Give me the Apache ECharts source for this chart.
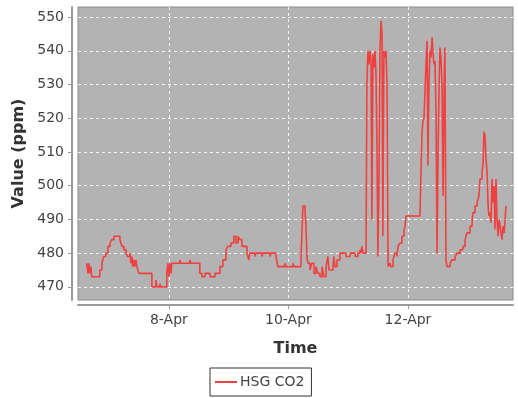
<!DOCTYPE html>
<html>
<head>
<meta charset="utf-8">
<script src="https://cdn.jsdelivr.net/npm/echarts@6/dist/echarts.min.js"></script>
<style>html,body{margin:0;padding:0;background:#fff}#c{width:518px;height:398px}</style>
</head>
<body>
<div id="c"></div>
<script>
const seriesName = 'HSG CO2';
const times = [
'2013-04-06 15:00','2013-04-06 15:30','2013-04-06 15:50','2013-04-06 16:15','2013-04-06 16:40','2013-04-06 17:00','2013-04-06 20:15','2013-04-06 21:05','2013-04-06 21:50','2013-04-06 22:40','2013-04-06 23:30',
'2013-04-07 00:20','2013-04-07 01:05','2013-04-07 01:55','2013-04-07 04:20','2013-04-07 04:45','2013-04-07 05:05','2013-04-07 05:55','2013-04-07 06:45','2013-04-07 07:30','2013-04-07 08:20','2013-04-07 08:45','2013-04-07 09:10','2013-04-07 09:30','2013-04-07 09:55','2013-04-07 10:20','2013-04-07 10:45','2013-04-07 11:10','2013-04-07 11:55','2013-04-07 17:10','2013-04-07 18:45','2013-04-07 19:10','2013-04-07 20:20','2013-04-07 20:45','2013-04-07 23:10','2013-04-07 23:35',
'2013-04-08 00:00','2013-04-08 00:25','2013-04-08 00:50','2013-04-08 01:10','2013-04-08 04:25','2013-04-08 04:50','2013-04-08 08:25','2013-04-08 08:50','2013-04-08 12:25','2013-04-08 13:15','2013-04-08 14:30','2013-04-08 16:30','2013-04-08 18:30','2013-04-08 20:30','2013-04-08 21:40','2013-04-08 22:55','2013-04-08 23:40',
'2013-04-09 00:55','2013-04-09 02:05','2013-04-09 02:55','2013-04-09 03:45','2013-04-09 04:30','2013-04-09 05:20','2013-04-09 07:20','2013-04-09 08:05','2013-04-09 08:30','2013-04-09 10:35','2013-04-09 10:55','2013-04-09 13:20','2013-04-09 13:45','2013-04-09 16:35','2013-04-09 17:00','2013-04-09 19:00','2013-04-09 19:45','2013-04-09 22:35','2013-04-09 23:00',
'2013-04-10 01:50','2013-04-10 02:15','2013-04-10 05:00','2013-04-10 05:25','2013-04-10 05:50','2013-04-10 06:40','2013-04-10 07:00','2013-04-10 07:25','2013-04-10 07:50','2013-04-10 08:40','2013-04-10 09:25','2013-04-10 10:15','2013-04-10 11:05','2013-04-10 11:50','2013-04-10 12:40','2013-04-10 13:30','2013-04-10 14:15','2013-04-10 15:05','2013-04-10 15:50','2013-04-10 16:15','2013-04-10 17:55','2013-04-10 18:15','2013-04-10 18:40','2013-04-10 19:30','2013-04-10 20:40','2013-04-10 23:05',
'2013-04-11 00:45','2013-04-11 02:45','2013-04-11 03:55','2013-04-11 04:45','2013-04-11 05:10','2013-04-11 05:30','2013-04-11 05:55','2013-04-11 07:10','2013-04-11 07:30','2013-04-11 07:55','2013-04-11 08:20','2013-04-11 08:45','2013-04-11 09:10','2013-04-11 09:30','2013-04-11 09:55','2013-04-11 10:20','2013-04-11 10:45','2013-04-11 11:10','2013-04-11 11:35','2013-04-11 11:55','2013-04-11 12:20','2013-04-11 12:45','2013-04-11 13:10','2013-04-11 13:35','2013-04-11 13:55','2013-04-11 14:20','2013-04-11 14:45','2013-04-11 15:10','2013-04-11 15:35','2013-04-11 16:00','2013-04-11 16:45','2013-04-11 17:10','2013-04-11 18:00','2013-04-11 18:45','2013-04-11 19:35','2013-04-11 20:00','2013-04-11 20:45','2013-04-11 21:35','2013-04-11 22:25','2013-04-11 22:50','2013-04-11 23:10',
'2013-04-12 04:50','2013-04-12 05:15','2013-04-12 05:40','2013-04-12 06:00','2013-04-12 06:25','2013-04-12 06:50','2013-04-12 07:15','2013-04-12 07:40','2013-04-12 08:00','2013-04-12 08:25','2013-04-12 08:50','2013-04-12 09:15','2013-04-12 09:40','2013-04-12 10:05','2013-04-12 10:25','2013-04-12 10:50','2013-04-12 11:15','2013-04-12 11:40','2013-04-12 12:05','2013-04-12 12:30','2013-04-12 12:50','2013-04-12 13:15','2013-04-12 13:40','2013-04-12 14:05','2013-04-12 14:30','2013-04-12 14:50','2013-04-12 15:15','2013-04-12 15:40','2013-04-12 16:55','2013-04-12 17:40','2013-04-12 18:55','2013-04-12 19:40','2013-04-12 20:55','2013-04-12 22:05','2013-04-12 22:55','2013-04-12 23:40',
'2013-04-13 00:55','2013-04-13 01:45','2013-04-13 02:05','2013-04-13 02:55','2013-04-13 03:45','2013-04-13 04:30','2013-04-13 04:55','2013-04-13 05:45','2013-04-13 06:10','2013-04-13 06:30','2013-04-13 06:55','2013-04-13 07:20','2013-04-13 07:45','2013-04-13 08:10','2013-04-13 08:30','2013-04-13 08:55','2013-04-13 09:20','2013-04-13 09:45','2013-04-13 10:10','2013-04-13 10:35','2013-04-13 10:55','2013-04-13 11:20','2013-04-13 11:45','2013-04-13 12:10','2013-04-13 12:35','2013-04-13 13:00','2013-04-13 13:20','2013-04-13 13:45','2013-04-13 14:10','2013-04-13 14:35','2013-04-13 15:00','2013-04-13 15:20'
];
const co2 = [
477,474,477,474,476,473,475,477,479,480,482,
483,484,485,484,483,482,481,480,479,480,477,479,476,478,476,478,476,474,470,472,470,471,470,474,477,
473,477,474,477,478,477,478,477,474,473,474,473,474,476,478,481,482,
483,485,483,485,484,482,480,478,480,479,480,479,480,479,480,479,476,477,476,
477,476,478,486,494,492,489,479,477,475,477,474,476,474,473,476,473,476,479,475,476,479,476,478,480,479,
480,479,480,481,480,482,480,481,530,540,536,540,537,490,539,535,540,533,510,479,500,540,549,545,485,540,538,540,530,476,477,476,478,480,479,482,483,485,487,488,491,
492,505,516,519,520,528,536,543,506,530,540,538,544,539,536,537,522,480,510,530,541,538,530,497,530,541,478,476,477,478,479,480,481,482,484,486,
488,490,492,494,495,497,502,504,507,516,515,508,504,494,491,492,489,502,495,500,487,502,490,485,490,488,486,484,488,486,490,494
];
const xTickDates = ['2013-04-08 00:00','2013-04-10 00:00','2013-04-12 00:00'];
const yTicks = [470,480,490,500,510,520,530,540,550];
const xRange = ['2013-04-06 11:30','2013-04-13 18:10'];
const yRange = [466.1, 553];

const toMs = s => new Date(s.replace(' ', 'T')).getTime();
const data = times.map((t, i) => [toMs(t), co2[i]]);
const months = ['Jan','Feb','Mar','Apr','May','Jun','Jul','Aug','Sep','Oct','Nov','Dec'];
const font = 'DejaVu Sans';
const gridStyle = {color: 'rgba(255,255,255,0.85)', type: [3, 3], width: 1};

const chart = echarts.init(document.getElementById('c'), null, {renderer: 'canvas'});
chart.setOption({
  animation: false,
  backgroundColor: '#ffffff',
  grid: {left: 78, right: 5, top: 7, bottom: 98, show: true, backgroundColor: '#b3b3b3', borderColor: '#8a8a8a', borderWidth: 1, containLabel: false},
  xAxis: {
    type: 'value',
    min: toMs(xRange[0]), max: toMs(xRange[1]),
    offset: 5,
    name: 'Time', nameLocation: 'middle', nameGap: 36,
    nameTextStyle: {fontFamily: font, fontWeight: 'bold', fontSize: 16, color: '#333'},
    axisLine: {show: true, onZero: false, lineStyle: {color: '#9a9a9a', width: 2}},
    axisTick: {show: true, length: 4, lineStyle: {color: '#9a9a9a'}, customValues: xTickDates.map(toMs)},
    axisLabel: {fontFamily: font, fontSize: 14, color: '#444', margin: 8, customValues: xTickDates.map(toMs),
      formatter: v => { const d = new Date(v); return d.getDate() + '-' + months[d.getMonth()]; }},
    splitLine: {show: true, lineStyle: gridStyle}
  },
  yAxis: {
    type: 'value',
    min: yRange[0], max: yRange[1],
    offset: 6,
    name: 'Value (ppm)', nameLocation: 'middle', nameGap: 45,
    nameTextStyle: {fontFamily: font, fontWeight: 'bold', fontSize: 16, color: '#333'},
    axisLine: {show: true, lineStyle: {color: '#9a9a9a', width: 2}},
    axisTick: {show: true, length: 4, lineStyle: {color: '#9a9a9a'}, customValues: yTicks},
    axisLabel: {fontFamily: font, fontSize: 14, color: '#444', margin: 8, customValues: yTicks},
    splitLine: {show: false}
  },
  legend: {
    data: [{name: seriesName, icon: 'rect'}],
    left: 210, top: 368,
    itemWidth: 22, itemHeight: 2, itemGap: 4,
    padding: [7, 7, 7, 5],
    borderColor: '#333', borderWidth: 1, borderRadius: 0,
    textStyle: {fontFamily: font, fontSize: 14, color: '#444', padding: [0, 0, 0, -2]}
  },
  series: [{
    name: seriesName, type: 'line', step: 'end', data: data,
    symbol: 'none', showSymbol: false, z: 3,
    lineStyle: {color: '#f04040', width: 1.6},
    itemStyle: {color: '#f04040'},
    markLine: {
      silent: true, symbol: 'none', z: 1,
      label: {show: false},
      lineStyle: gridStyle,
      emphasis: {disabled: true},
      data: yTicks.map(v => ({yAxis: v}))
    }
  }]
});
</script>
</body>
</html>
